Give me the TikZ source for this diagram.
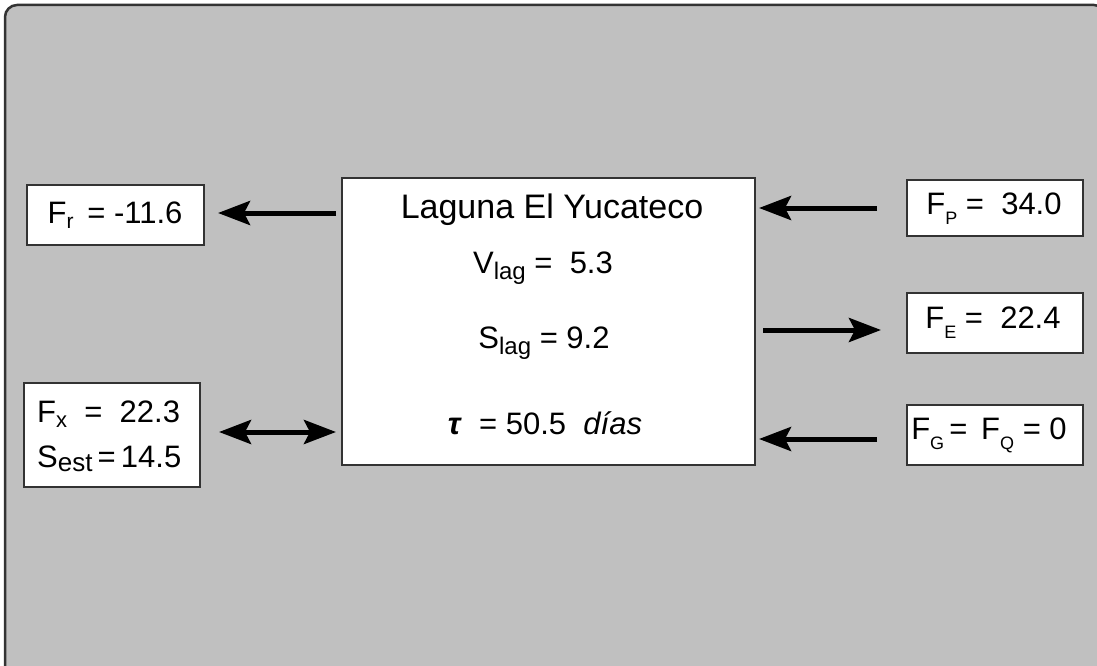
\documentclass[tikz,border=0pt]{standalone}
\usepackage{fontspec}
\setmainfont{Liberation Sans}
\usetikzlibrary{arrows.meta}
\newcommand{\lowsub}[3]{\raisebox{-#2pt}{\fontsize{#1}{#1}\selectfont #3}}
\definecolor{panel}{HTML}{C0C0C0}
\definecolor{edge}{HTML}{333333}
\begin{document}
\begin{tikzpicture}[x=1pt,y=-1pt,
  frame/.style={draw=edge,line width=2.5pt,fill=panel,rounded corners=12pt},
  box/.style={draw=edge,line width=2pt,fill=white,inner sep=0pt},
  txt/.style={inner sep=0pt,font=\fontsize{31}{36}\selectfont},
  arr/.style={line width=5pt,-{Stealth[length=32pt,width=24pt,inset=6pt]}},
  darr/.style={line width=5pt,{Stealth[length=32pt,width=24pt,inset=6pt]}-{Stealth[length=32pt,width=24pt,inset=6pt]}}]
\fill[white] (0,0) rectangle (1097,666);
\useasboundingbox (0,0) rectangle (1097,666);
\begin{scope}
\clip (0,0) rectangle (1097,666);
\draw[frame] (5,5) rectangle (1106,677);
\end{scope}
% central box
\node[box,minimum width=413pt,minimum height=287pt] (main) at (548.5,321.5) {};
\node[txt,font=\fontsize{34}{40}\selectfont] (title) at (552,210) {Laguna El Yucateco};
\node[txt] (vlag) at (543,268) {V\lowsub{24}{6}{lag} = \ 5.3};
\node[txt] (slag) at (544,343) {S\lowsub{24}{6}{lag} = 9.2};
\node[txt] (tau) at (545,423) {\textbf{\textit{τ}} \ = 50.5 \ \textit{días}};
% left boxes
\node[box,minimum width=177pt,minimum height=60pt] (fr) at (115.5,215) {};
\node[txt] (frt) at (115,215) {F\lowsub{21}{5}{r} \,= -11.6};
\node[box,minimum width=176pt,minimum height=104pt] (fx) at (112,435) {};
\node[txt,align=left,anchor=west] (fxt) at (37,436) {F\lowsub{22}{5}{x} \ = \ 22.3\\[9pt]S\lowsub{26}{4}{est}\,=\,14.5};
% right boxes
\node[box,minimum width=176pt,minimum height=56pt] (fp) at (995,208) {};
\node[txt] (fpt) at (994,209) {F\lowsub{18}{10}{P} = \ 34.0};
\node[box,minimum width=176pt,minimum height=60pt] (fe) at (995,323) {};
\node[txt] (fet) at (993,323) {F\lowsub{18}{10}{E} = \ 22.4};
\node[box,minimum width=176pt,minimum height=60pt] (fg) at (995,435) {};
\node[txt] (fgt) at (989,435) {F\lowsub{18}{10}{G}\,= \,F\lowsub{18}{10}{Q} = 0};
% connectors
\draw[arr,shorten <=5pt,shorten >=13pt] (main.west |- 0,213) -- (fr.east |- 0,213);
\draw[darr,shorten <=18pt,shorten >=5pt] (fx.east |- 0,432) -- (main.west |- 0,432);
\draw[arr,shorten <=29pt,shorten >=3pt] (fp.west |- 0,208) -- (main.east |- 0,208);
\draw[arr,shorten <=7pt,shorten >=25pt] (main.east |- 0,330) -- (fe.west |- 0,330);
\draw[arr,shorten <=29pt,shorten >=3pt] (fg.west |- 0,439) -- (main.east |- 0,439);
\end{tikzpicture}
\end{document}
